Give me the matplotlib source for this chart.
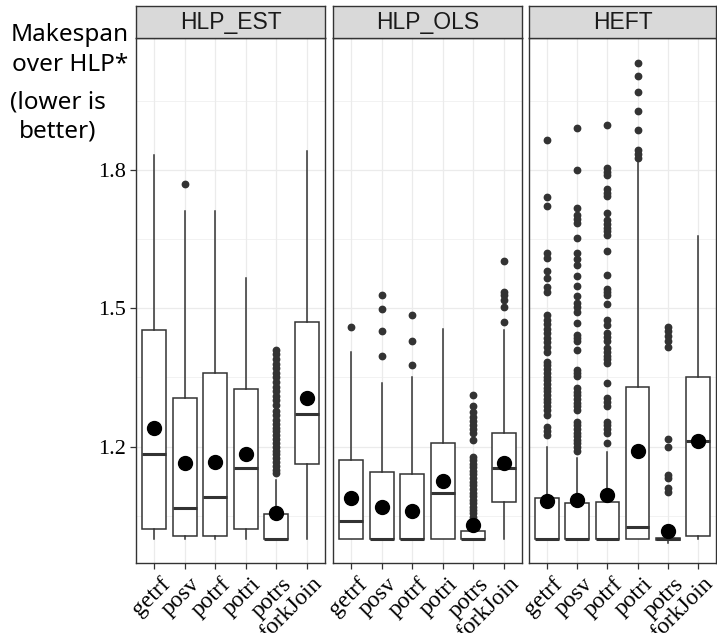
import matplotlib
matplotlib.use('Agg')
import matplotlib.pyplot as plt
import matplotlib.transforms as mtransforms
import numpy as np

# 数据（从图中读取的箱线图统计量）
methods = ['HLP_EST', 'HLP_OLS', 'HEFT']
kernels = ['getrf', 'posv', 'potrf', 'potri', 'potrs', 'forkJoin']

# 每个面板: whislo, q1, med, q3, whishi
est_lo = [1.0, 1.0, 1.0, 1.0, 1.0, 1.0]
est_q1 = [1.021, 1.005, 1.007, 1.021, 1.0, 1.162]
est_med = [1.185, 1.067, 1.091, 1.154, 1.0, 1.27]
est_q3 = [1.453, 1.306, 1.359, 1.326, 1.054, 1.47]
est_hi = [1.833, 1.71, 1.71, 1.565, 1.128, 1.841]
est_mean = [1.24, 1.165, 1.167, 1.184, 1.056, 1.306]
est_out = [
    [],
    [1.77],
    [],
    [],
    [1.142, 1.15, 1.158, 1.166, 1.175, 1.183, 1.19, 1.2, 1.208, 1.216, 1.225,
     1.233, 1.241, 1.25, 1.258, 1.268, 1.277, 1.29, 1.3, 1.31, 1.32, 1.33,
     1.34, 1.35, 1.36, 1.37, 1.38, 1.39, 1.4, 1.41],
    [],
]

ols_lo = [1.0, 1.0, 1.0, 1.0, 1.0, 1.0]
ols_q1 = [1.0, 1.0, 1.0, 1.0, 1.0, 1.079]
ols_med = [1.039, 1.0, 1.0, 1.1, 1.0, 1.153]
ols_q3 = [1.172, 1.144, 1.14, 1.208, 1.016, 1.23]
ols_hi = [1.406, 1.337, 1.352, 1.456, 1.035, 1.453]
ols_mean = [1.088, 1.07, 1.061, 1.125, 1.029, 1.164]
ols_out = [
    [1.459],
    [1.528, 1.498, 1.451, 1.397],
    [1.485, 1.429, 1.378],
    [],
    [1.312, 1.288, 1.276, 1.265, 1.255, 1.246, 1.238, 1.229, 1.214, 1.178,
     1.17, 1.162, 1.155, 1.147, 1.14, 1.132, 1.124, 1.116, 1.108, 1.1, 1.092,
     1.085, 1.077, 1.07, 1.062, 1.055, 1.048, 1.041],
    [1.603, 1.536, 1.528, 1.518, 1.502, 1.471],
]

heft_lo = [1.0, 1.0, 1.0, 1.0, 0.99, 1.0]
heft_q1 = [1.0, 1.0, 1.0, 1.0, 0.998, 1.006]
heft_med = [1.0, 1.0, 1.0, 1.025, 1.0, 1.212]
heft_q3 = [1.088, 1.077, 1.079, 1.33, 1.001, 1.352]
heft_hi = [1.2, 1.175, 1.188, 1.822, 1.002, 1.657]
heft_mean = [1.081, 1.085, 1.096, 1.19, 1.017, 1.212]
heft_out = [
    [1.864, 1.741, 1.722, 1.62, 1.609, 1.58, 1.566, 1.547, 1.535, 1.485, 1.475,
     1.466, 1.456, 1.446, 1.436, 1.426, 1.416, 1.406, 1.384, 1.376, 1.368,
     1.36, 1.352, 1.344, 1.336, 1.328, 1.32, 1.312, 1.304, 1.296, 1.288, 1.28,
     1.269, 1.243, 1.234, 1.225],
    [1.892, 1.801, 1.718, 1.702, 1.693, 1.684, 1.653, 1.62, 1.607, 1.594,
     1.569, 1.549, 1.527, 1.511, 1.502, 1.493, 1.469, 1.442, 1.435, 1.428,
     1.41, 1.367, 1.36, 1.353, 1.327, 1.319, 1.311, 1.303, 1.295, 1.287, 1.279,
     1.254, 1.246, 1.238, 1.23, 1.222, 1.214, 1.207, 1.2, 1.19],
    [1.897, 1.804, 1.796, 1.789, 1.759, 1.751, 1.744, 1.706, 1.691, 1.683,
     1.675, 1.667, 1.659, 1.624, 1.572, 1.542, 1.535, 1.529, 1.509, 1.475,
     1.464, 1.446, 1.437, 1.428, 1.413, 1.405, 1.397, 1.389, 1.381, 1.337,
     1.305, 1.296, 1.287, 1.254, 1.246, 1.238, 1.229, 1.207],
    [2.033, 2.004, 1.97, 1.929, 1.887, 1.843, 1.834, 1.825],
    [1.46, 1.45, 1.44, 1.428, 1.417, 1.216, 1.199, 1.139, 1.131, 1.11, 1.102],
    [],
]

panels = [
    (est_lo, est_q1, est_med, est_q3, est_hi, est_mean, est_out),
    (ols_lo, ols_q1, ols_med, ols_q3, ols_hi, ols_mean, ols_out),
    (heft_lo, heft_q1, heft_med, heft_q3, heft_hi, heft_mean, heft_out),
]

W, H = 717, 633
fig = plt.figure(figsize=(W / 100, H / 100), dpi=100)

dark = '#333333'
grid_c = '#EBEBEB'
lefts = [136, 333, 529]
widths = [189, 189, 187]
top, bottom = 38, 563
strip_top = 6

for p, (lo, q1, med, q3, hi, mean, out) in enumerate(panels):
    ax = fig.add_axes([lefts[p] / W, (H - bottom) / H, widths[p] / W, (bottom - top) / H])
    pos = np.arange(1, len(kernels) + 1)
    stats = []
    for i in range(len(kernels)):
        stats.append(dict(whislo=lo[i], q1=q1[i], med=med[i], q3=q3[i],
                          whishi=hi[i], fliers=out[i]))
    ax.bxp(stats, positions=pos, widths=0.78, showcaps=False, patch_artist=True,
           boxprops=dict(facecolor='white', edgecolor=dark, linewidth=1.1),
           whiskerprops=dict(color=dark, linewidth=1.1),
           medianprops=dict(color=dark, linewidth=2.2),
           flierprops=dict(marker='o', markerfacecolor=dark, markeredgecolor=dark,
                           markersize=4.6, linestyle='none'),
           zorder=3)
    ax.plot(pos, mean, 'o', color='black', markersize=10, zorder=5)

    ax.set_xlim(0.4, 6.6)
    ax.set_ylim(0.9475, 2.0863)
    ax.set_yticks([1.2, 1.5, 1.8])
    ax.set_yticks([1.05, 1.35, 1.65, 1.95], minor=True)
    ax.set_xticks(pos)
    ax.grid(which='major', color=grid_c, linewidth=0.9, zorder=0)
    ax.grid(which='minor', axis='y', color=grid_c, linewidth=0.45, zorder=0)
    ax.set_axisbelow(True)
    for s in ax.spines.values():
        s.set_color(dark)
        s.set_linewidth(1.0)
    ax.tick_params(which='major', direction='out', length=4, width=0.9, color=dark)
    ax.tick_params(which='minor', length=0)
    ax.set_xticklabels(kernels, rotation=45, ha='right', va='top',
                       rotation_mode='anchor', fontsize=17, family='Liberation Serif')
    # 标签稍微右移
    offset = mtransforms.ScaledTranslation(5 / 100, 0, fig.dpi_scale_trans)
    for lab in ax.get_xticklabels():
        lab.set_transform(lab.get_transform() + offset)
    if p == 0:
        ax.set_yticklabels(['1.2', '1.5', '1.8'], fontsize=16, family='Liberation Serif')
    else:
        ax.tick_params(axis='y', which='both', left=False, labelleft=False)

    # 分面标题
    sax = fig.add_axes([lefts[p] / W, (H - top) / H, widths[p] / W, (top - strip_top) / H])
    sax.set_facecolor('#D9D9D9')
    sax.set_xticks([])
    sax.set_yticks([])
    for s in sax.spines.values():
        s.set_color(dark)
        s.set_linewidth(1.0)
    sax.text(0.5, 0.47, methods[p], ha='center', va='center', fontsize=16.5,
             family='Liberation Sans', color='#1A1A1A', transform=sax.transAxes)

# Y轴标题
fig.text(70 / W, 1 - 50 / H, 'Makespan\nover HLP*', ha='center', va='center',
         fontsize=17.5, family='Noto Sans', linespacing=1.32)
fig.text(58 / W, 1 - 117 / H, '(lower is\nbetter)', ha='center', va='center',
         fontsize=17.5, family='Noto Sans', linespacing=1.32)

plt.savefig('out.png', dpi=100)
